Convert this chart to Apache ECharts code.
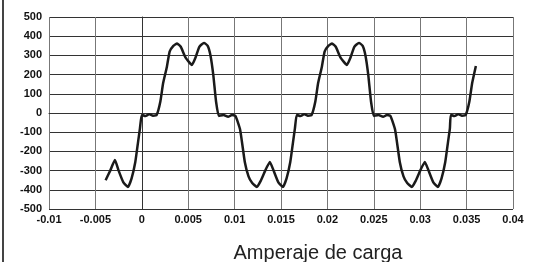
<!DOCTYPE html>
<html>
<head>
<meta charset="utf-8">
<script src="https://cdn.jsdelivr.net/npm/echarts@6/dist/echarts.min.js"></script>
<style>
  html, body { margin: 0; padding: 0; background: #fff; }
  #main { width: 539px; height: 262px; }
</style>
</head>
<body>
<div id="main"></div>
<script>
// tiempo (s) y amperaje
var tiempos = [
  -0.0039, -0.0034, -0.0029, -0.0025, -0.0020, -0.0015, -0.0011, -0.0007, -0.0004, -0.0002,
  0.0000, 0.0004, 0.0008, 0.0012, 0.0016, 0.0020, 0.0023, 0.0027, 0.0030, 0.0034,
  0.0038, 0.0042, 0.0047, 0.0054, 0.0058, 0.0062, 0.0067, 0.0071, 0.0074, 0.0077,
  0.0080, 0.0083, 0.0088, 0.0093, 0.0097, 0.0101, 0.0106, 0.0111, 0.0115, 0.0119,
  0.0124, 0.0128, 0.0133, 0.0138, 0.0142, 0.0147, 0.0152, 0.0156, 0.0160, 0.0163,
  0.0165, 0.0167, 0.0171, 0.0175, 0.0179, 0.0183, 0.0187, 0.0190, 0.0194, 0.0197,
  0.0201, 0.0205, 0.0209, 0.0214, 0.0221, 0.0225, 0.0229, 0.0234, 0.0238, 0.0241,
  0.0244, 0.0247, 0.0250, 0.0255, 0.0260, 0.0264, 0.0268, 0.0273, 0.0278, 0.0282,
  0.0286, 0.0291, 0.0295, 0.0300, 0.0305, 0.0309, 0.0314, 0.0319, 0.0323, 0.0327,
  0.0330, 0.0332, 0.0333, 0.0337, 0.0341, 0.0345, 0.0349, 0.0353, 0.0356, 0.0360
];
var amperaje = [
  -350, -300, -245, -300, -360, -385, -340, -255, -150, -80,
  -10, -16, -6, -14, -10, 60, 156, 240, 320, 350,
  362, 345, 290, 250, 290, 345, 365, 350, 300, 200,
  60, -15, -10, -20, -11, -16, -88, -255, -330, -365,
  -385, -355, -300, -255, -300, -360, -385, -340, -255, -150,
  -80, -10, -16, -6, -14, -10, 60, 156, 240, 320,
  350, 362, 345, 290, 250, 290, 345, 365, 350, 300,
  200, 60, -15, -10, -20, -11, -16, -88, -255, -330,
  -365, -385, -355, -300, -255, -300, -360, -385, -340, -255,
  -150, -80, -10, -16, -6, -14, -10, 60, 156, 245
];
var ejeX = { min: -0.01, max: 0.04, paso: 0.005 };
var ejeY = { min: -500, max: 500, paso: 100 };
var titulo = 'Amperaje de carga';

var puntos = tiempos.map(function (t, i) { return [t, amperaje[i]]; });

var myChart = echarts.init(document.getElementById('main'));

var option = {
  animation: false,
  backgroundColor: '#fff',
  title: {
    text: titulo,
    left: 313,
    top: 238,
    textAlign: 'center',
    textStyle: { fontFamily: 'Liberation Sans', fontWeight: 'normal', fontSize: 20, color: '#222' }
  },
  grid: { left: 49, right: 26, top: 17, bottom: 53, show: false },
  graphic: [{
    type: 'rect',
    shape: { x: 2, y: 0, width: 2, height: 262 },
    style: { fill: '#444' }
  }],
  xAxis: {
    type: 'value',
    min: ejeX.min,
    max: ejeX.max,
    interval: ejeX.paso,
    axisLine: { show: true, lineStyle: { color: '#333', width: 1 } },
    axisTick: { show: false },
    axisLabel: {
      margin: 5,
      color: '#111',
      fontFamily: 'Liberation Sans',
      fontWeight: 'bold',
      fontSize: 11,
      formatter: function (v) { return String(+v.toFixed(3)); }
    },
    splitLine: { show: true, lineStyle: { color: '#777', width: 1 } }
  },
  yAxis: {
    type: 'value',
    min: ejeY.min,
    max: ejeY.max,
    interval: ejeY.paso,
    axisLine: { show: true, lineStyle: { color: '#333', width: 1 } },
    axisTick: { show: false },
    axisLabel: {
      margin: 7,
      color: '#111',
      fontFamily: 'Liberation Sans',
      fontWeight: 'bold',
      fontSize: 11
    },
    splitLine: { show: true, lineStyle: { color: '#333', width: 1 } }
  },
  series: [{
    type: 'line',
    data: puntos,
    showSymbol: false,
    smooth: 0.15,
    lineStyle: { color: '#1a1a1a', width: 2.5 },
    z: 5
  }]
};

myChart.setOption(option);
</script>
</body>
</html>
